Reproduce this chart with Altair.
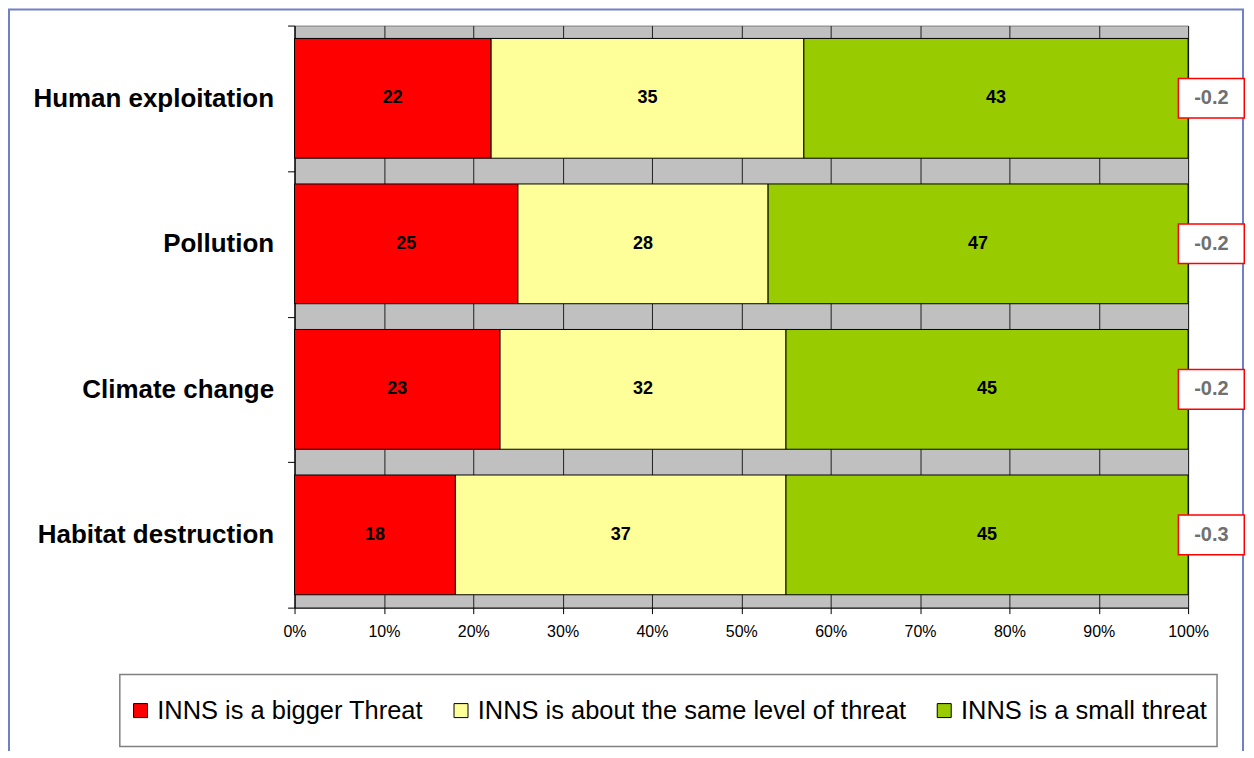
import altair as alt
import pandas as pd

categories = ["Human exploitation", "Pollution", "Climate change", "Habitat destruction"]
bigger = [22, 25, 23, 18]
same = [35, 28, 32, 37]
small = [43, 47, 45, 45]
scores = ["-0.2", "-0.2", "-0.2", "-0.3"]

series = ["INNS is a bigger Threat", "INNS is about the same level of threat", "INNS is a small threat"]
colors = ["#FF0000", "#FFFF99", "#99CC00"]
x_ticks = [0, 0.1, 0.2, 0.3, 0.4, 0.5, 0.6, 0.7, 0.8, 0.9, 1.0]

rows = []
for i, c in enumerate(categories):
    for k, vals in enumerate([bigger, same, small]):
        rows.append({"category": c, "series": series[k], "order": k, "value": vals[i]})
df = pd.DataFrame(rows)
score_df = pd.DataFrame({"category": categories, "score": scores})
one_df = pd.DataFrame({"a": [0]})

FONT = "Liberation Sans"

y_enc = alt.Y(
    "category:N",
    sort=categories,
    scale=alt.Scale(paddingInner=0, paddingOuter=0),
    axis=alt.Axis(
        title=None, tickBand="extent", tickSize=7, tickColor="#000000",
        domainColor="#000000", labelFontSize=26, labelFontWeight="bold",
        labelFont=FONT, labelColor="#000000", labelPadding=14, labelLimit=400,
    ),
)

x_scale = alt.Scale(domain=[0, 1], nice=False)

base = alt.Chart(df).transform_stack(
    stack="value", groupby=["category"], sort=[alt.SortField("order")],
    as_=["x0", "x1"], offset="normalize",
).transform_calculate(mid="(datum.x0 + datum.x1) / 2")

bars = base.mark_bar(stroke="#000000", strokeWidth=1, height={"band": 0.823}).encode(
    x=alt.X(
        "x0:Q", scale=x_scale,
        axis=alt.Axis(
            title=None, values=x_ticks, format=".0%", grid=True,
            gridColor="#202020", gridWidth=1, tickSize=6, tickColor="#000000",
            domainColor="#000000", labelFontSize=16, labelFont=FONT,
            labelColor="#000000", labelPadding=10, labelFlush=False,
        ),
    ),
    x2="x1:Q",
    y=y_enc,
    color=alt.Color(
        "series:N",
        scale=alt.Scale(domain=series, range=colors),
        legend=alt.Legend(
            title=None, orient="none", legendX=-167, legendY=673,
            direction="horizontal", columns=3, columnPadding=25,
            symbolType="square", symbolSize=196, symbolStrokeColor="#000000",
            symbolStrokeWidth=1, symbolOpacity=1, labelFontSize=25.5,
            labelFont=FONT, labelColor="#000000", labelLimit=600,
            labelOffset=4, padding=0,
        ),
    ),
    order=alt.Order("order:Q"),
)

labels = base.mark_text(
    font=FONT, fontSize=18, fontWeight="bold", color="#000000"
).encode(
    x=alt.X("mid:Q", scale=x_scale),
    y=alt.Y("category:N", sort=categories),
    text=alt.Text("value:Q"),
)

score_box = alt.Chart(score_df).mark_point(
    shape="M-1,-0.6H1V0.6H-1Z", filled=True, fill="#FFFFFF",
    stroke="#FF0000", strokeWidth=1.5, size=66 * 66, opacity=1,
).encode(
    x=alt.datum(1.026, scale=x_scale),
    y=alt.Y("category:N", sort=categories),
)

score_text = alt.Chart(score_df).mark_text(
    font=FONT, fontSize=20, fontWeight="bold", color="#707070"
).encode(
    x=alt.datum(1.026, scale=x_scale),
    y=alt.Y("category:N", sort=categories),
    text="score:N",
)

frame = alt.Chart(one_df).mark_rect(
    fillOpacity=0, stroke="#7080C8", strokeWidth=2
).encode(
    x=alt.value(-286), x2=alt.value(950), y=alt.value(-16), y2=alt.value(760)
)

legend_box = alt.Chart(one_df).mark_rect(
    fill="#FFFFFF", stroke="#808080", strokeWidth=1.5
).encode(
    x=alt.value(-175), x2=alt.value(924), y=alt.value(650), y2=alt.value(722)
)

chart = alt.layer(frame, legend_box, bars, labels, score_box, score_text).properties(
    width=895, height=583,
    padding={"left": 287, "top": 17, "right": 58, "bottom": 143},
    autosize=alt.AutoSizeParams(type="none"),
).configure_view(
    fill="#C0C0C0", stroke="#808080"
)

chart.save("out.html", embed_options={"renderer": "svg", "actions": False})
